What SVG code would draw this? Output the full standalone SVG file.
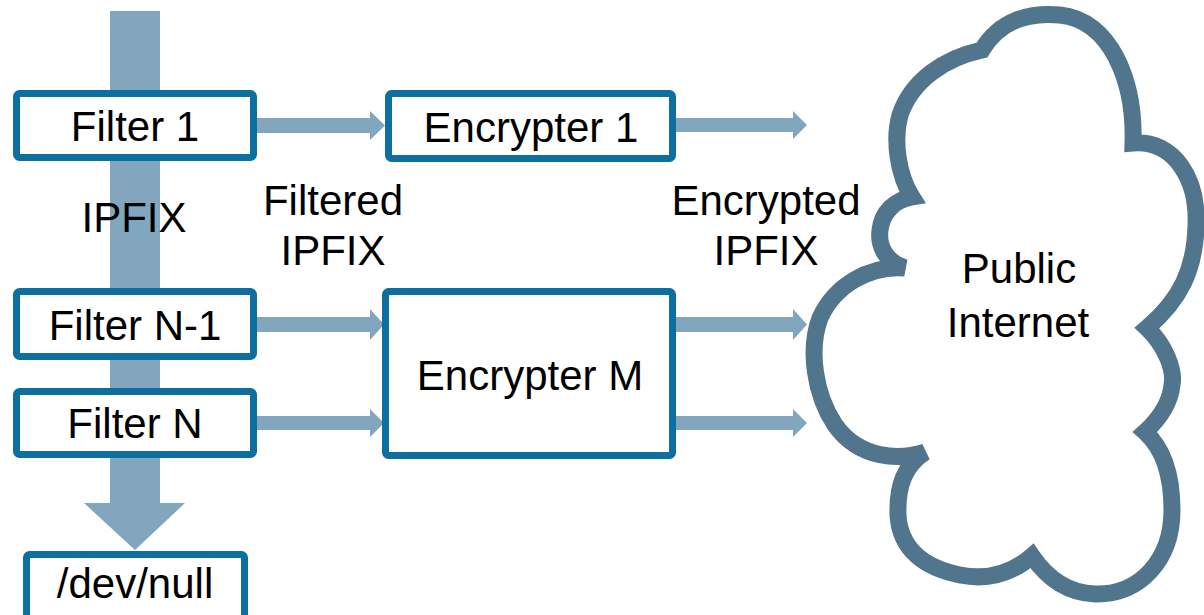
<svg xmlns="http://www.w3.org/2000/svg" width="1204" height="615" viewBox="0 0 1204 615">
<style>
.box{fill:#ffffff;stroke:#0D6EA0;stroke-width:7}
.arr{fill:#82A6BD}
.t{font-family:"Liberation Sans",Arial,sans-serif;font-size:42px;fill:#000000;text-anchor:middle}
.cloud{fill:#ffffff;stroke:#51758C;stroke-width:17;stroke-linejoin:miter;stroke-miterlimit:6}
</style>
<rect width="1204" height="615" fill="#ffffff"/>
<g id="cloud">
<path class="cloud" d="M982,50 C1000,20 1030,12 1060,15 C1110,20 1135,80 1133,143 C1175,140 1198,180 1196,225 C1195,270 1180,300 1147,328 C1165,345 1175,370 1172,385 C1170,405 1158,420 1145,432 C1165,450 1172,480 1172,510 C1172,560 1140,595 1095,594 C1065,593 1045,575 1032,556 C1010,575 985,580 960,575 C925,568 900,550 898,515 C897,485 905,465 925,452 C900,460 860,460 835,425 C815,395 808,350 820,318 C835,285 870,265 905,268 C885,262 878,245 880,230 C882,212 895,200 912,197 C898,175 893,140 900,115 C912,80 945,58 982,50 Z"/>
<text class="t" x="1019" y="283">Public</text>
<text class="t" x="1018" y="337">Internet</text>
</g>
<g id="connectors">
<polygon class="arr" points="110,11 160,11 160,503 185,503 135,550 84,503 110,503"/>
<polygon class="arr" points="253,118 370,118 370,111 385,125.5 370,140 370,133 253,133"/>
<polygon class="arr" points="676,118 793,118 793,111 807,125 793,139 793,132 676,132"/>
<polygon class="arr" points="253,317 370,317 370,309 384,324.5 370,340 370,332 253,332"/>
<polygon class="arr" points="253,416 370,416 370,409 384,423 370,437 370,430 253,430"/>
<polygon class="arr" points="676,317 793,317 793,309 807,324.5 793,340 793,332 676,332"/>
<polygon class="arr" points="676,416 793,416 793,409 807,423 793,437 793,430 676,430"/>
</g>
<g id="label-ipfix"><text class="t" x="134" y="232">IPFIX</text></g>
<g id="label-filtered"><text class="t" x="333" y="215">Filtered</text><text class="t" x="333" y="265">IPFIX</text></g>
<g id="label-encrypted"><text class="t" x="766" y="215">Encrypted</text><text class="t" x="766" y="265">IPFIX</text></g>
<g id="filter1"><rect class="box" x="16.5" y="93.5" width="237" height="64" rx="3"/><text class="t" x="135" y="141">Filter 1</text></g>
<g id="filterN-1"><rect class="box" x="16.5" y="291.5" width="237" height="65" rx="3"/><text class="t" x="135" y="340">Filter N-1</text></g>
<g id="filterN"><rect class="box" x="16.5" y="391.5" width="237" height="63" rx="3"/><text class="t" x="135" y="438">Filter N</text></g>
<g id="devnull"><rect class="box" x="26.5" y="554.5" width="218" height="75" rx="3"/><text class="t" x="135" y="598">/dev/null</text></g>
<g id="encrypter1"><rect class="box" x="388.5" y="93.5" width="284" height="65" rx="3"/><text class="t" x="531" y="142">Encrypter 1</text></g>
<g id="encrypterM"><rect class="box" x="385.5" y="291.5" width="287" height="164" rx="3"/><text class="t" x="530" y="390">Encrypter M</text></g>
</svg>
